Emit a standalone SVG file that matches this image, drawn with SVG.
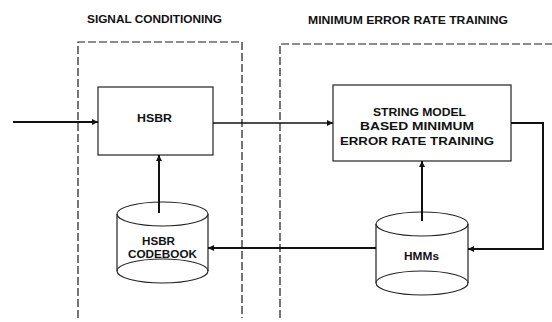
<svg xmlns="http://www.w3.org/2000/svg" width="552" height="322" viewBox="0 0 552 322">
  <style>
    .title { font-family: "Liberation Sans", Arial, sans-serif; font-weight: bold; font-size: 10px; fill: #111; }
    .label { font-family: "Liberation Sans", Arial, sans-serif; font-weight: bold; font-size: 11px; fill: #111; }
    .box { fill: #fff; stroke: #222; stroke-width: 1.2; }
    .region { fill: none; stroke: #1a1a1a; stroke-width: 1.2; stroke-dasharray: 8 3; }
    .wire { fill: none; stroke: #111; stroke-width: 1.3; }
    .thick { fill: none; stroke: #111; stroke-width: 2; }
  </style>
  <defs>
    <marker id="arrow" viewBox="0 0 10 10" refX="10" refY="5" markerWidth="8" markerHeight="6" markerUnits="userSpaceOnUse" orient="auto">
      <path d="M0,0 L10,5 L0,10 z" fill="#111"/>
    </marker>
  </defs>
  <rect width="552" height="322" fill="#fff"/>

  <!-- stage regions -->
  <g id="signal-conditioning">
    <text class="title" x="87" y="23" textLength="135" lengthAdjust="spacingAndGlyphs">SIGNAL CONDITIONING</text>
    <path class="region" d="M78,318 V42 H242 V318"/>
  </g>
  <g id="mert">
    <text class="title" x="308" y="24" textLength="200" lengthAdjust="spacingAndGlyphs">MINIMUM ERROR RATE TRAINING</text>
    <path class="region" d="M280,318 V44 H552"/>
  </g>

  <!-- nodes -->
  <g id="hsbr">
    <rect class="box" x="98" y="87" width="115" height="68"/>
    <text class="label" x="137" y="122" font-size="12" textLength="35" lengthAdjust="spacingAndGlyphs">HSBR</text>
  </g>
  <g id="string-model">
    <rect class="box" x="333" y="85" width="178" height="76"/>
    <text class="label" x="373" y="116" textLength="93" lengthAdjust="spacingAndGlyphs">STRING MODEL</text>
    <text class="label" x="360" y="130" textLength="114" lengthAdjust="spacingAndGlyphs">BASED MINIMUM</text>
    <text class="label" x="340" y="145" textLength="154" lengthAdjust="spacingAndGlyphs">ERROR RATE TRAINING</text>
  </g>
  <g id="hsbr-codebook">
    <path class="box" d="M117,214 V271 A45.5,12 0 0 0 208,271 V214"/>
    <ellipse class="box" cx="162.5" cy="214" rx="45.5" ry="12"/>
    <path fill="none" stroke="#222" stroke-width="1.2" d="M117,271 A45.5,12 0 0 1 208,271"/>
    <text class="label" x="142" y="245" textLength="33" lengthAdjust="spacingAndGlyphs">HSBR</text>
    <text class="label" x="128" y="258" textLength="69" lengthAdjust="spacingAndGlyphs">CODEBOOK</text>
  </g>
  <g id="hmms">
    <path class="box" d="M376,224 V283 A46,12 0 0 0 468,283 V224"/>
    <ellipse class="box" cx="422" cy="224" rx="46" ry="12"/>
    <path fill="none" stroke="#222" stroke-width="1.2" d="M376,283 A46,12 0 0 1 468,283"/>
    <text class="label" x="404" y="260" textLength="35" lengthAdjust="spacingAndGlyphs">HMMs</text>
  </g>

  <!-- connectors -->
  <g id="connectors">
    <line class="thick" x1="13" y1="122" x2="98" y2="122" marker-end="url(#arrow)"/>
    <line class="wire" x1="213" y1="123" x2="333" y2="123" marker-end="url(#arrow)"/>
    <line class="thick" x1="159" y1="213" x2="159" y2="155" marker-end="url(#arrow)"/>
    <line class="thick" x1="422" y1="221" x2="422" y2="161" marker-end="url(#arrow)"/>
    <path class="thick" d="M511,123 H543 V249 H468" marker-end="url(#arrow)"/>
    <line class="thick" x1="376" y1="248" x2="208" y2="248" marker-end="url(#arrow)"/>
  </g>
</svg>
